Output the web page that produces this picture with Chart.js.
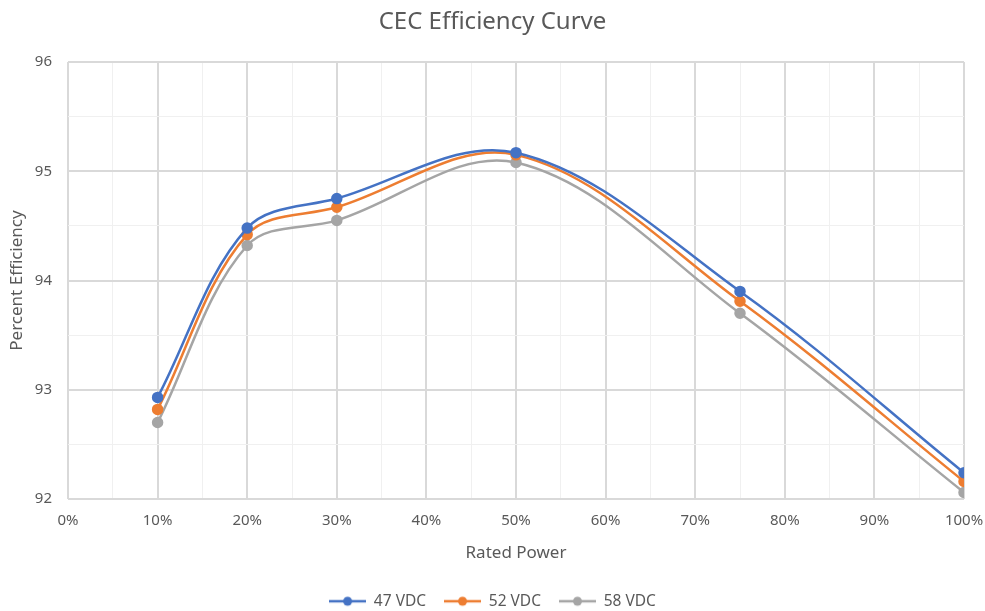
<!DOCTYPE html>
<html>
<head>
<meta charset="utf-8">
<title>CEC Efficiency Curve</title>
<script src="https://cdn.jsdelivr.net/npm/chart.js@4.4.1/dist/chart.umd.min.js"></script>
<style>
    html, body { margin: 0; padding: 0; background: #fff; }
    #grafico { display: block; }
</style>
</head>
<body>
<canvas id="grafico" width="985" height="611"></canvas>
<script>
// Puntos medidos (% de potencia nominal) y eficiencia por tensión de entrada
const ratedPower = [10, 20, 30, 50, 75, 100];
const vdc47 = [92.93, 94.48, 94.75, 95.17, 93.90, 92.24];
const vdc52 = [92.82, 94.42, 94.67, 95.15, 93.81, 92.16];
const vdc58 = [92.70, 94.32, 94.55, 95.08, 93.70, 92.06];
const seriesNames = ['47 VDC', '52 VDC', '58 VDC'];
const seriesColors = ['#4472C4', '#ED7D31', '#A5A5A5'];

const textColor = '#595959';
const fontFamily = "'Noto Sans', 'Open Sans', sans-serif";

// Marcador de leyenda: línea con punto al centro
function legendMarker(color) {
    const c = document.createElement('canvas');
    c.width = 37;
    c.height = 12;
    const g = c.getContext('2d');
    g.strokeStyle = color;
    g.lineWidth = 2.5;
    g.beginPath();
    g.moveTo(0, 6);
    g.lineTo(37, 6);
    g.stroke();
    g.fillStyle = color;
    g.beginPath();
    g.arc(18.5, 6, 4.5, 0, Math.PI * 2);
    g.fill();
    return c;
}

const seriesValues = [vdc47, vdc52, vdc58];
const datasets = seriesValues.map((vals, i) => ({
    label: seriesNames[i],
    data: ratedPower.map((x, j) => ({ x: x, y: vals[j] })),
    borderColor: seriesColors[i],
    backgroundColor: seriesColors[i],
    borderWidth: 2.5,
    pointRadius: 4.5,
    pointHoverRadius: 5,
    tension: 0.35,
    fill: false
}));

const ctx = document.getElementById('grafico').getContext('2d');
new Chart(ctx, {
    type: 'line',
    data: { datasets },
    options: {
        responsive: false,
        animation: false,
        layout: { padding: { left: 0, right: 0, top: 0, bottom: -8 } },
        plugins: {
            title: {
                display: true,
                text: 'CEC Efficiency Curve',
                color: textColor,
                font: { family: fontFamily, size: 24, weight: 'normal', lineHeight: 1.2 },
                padding: { top: 7.6, bottom: 25.6 }
            },
            legend: {
                display: true,
                position: 'bottom',
                labels: {
                    color: textColor,
                    font: { family: fontFamily, size: 15.5, lineHeight: 1 },
                    usePointStyle: true,
                    pointStyleWidth: 37,
                    boxHeight: 12,
                    padding: 18,
                    generateLabels: (chart) => {
                        const items = Chart.defaults.plugins.legend.labels.generateLabels(chart);
                        items.forEach((it, i) => { it.pointStyle = legendMarker(seriesColors[i]); });
                        return items;
                    }
                }
            },
            tooltip: { enabled: false }
        },
        scales: {
            x: {
                type: 'linear',
                min: 0,
                max: 100,
                border: { display: false },
                grid: {
                    color: (c) => (c.tick.value % 10 === 0 ? '#D9D9D9' : '#F0F0F0'),
                    lineWidth: (c) => (c.tick.value % 10 === 0 ? 2 : 1),
                    drawTicks: false
                },
                ticks: {
                    stepSize: 5,
                    autoSkip: false,
                    maxRotation: 0,
                    padding: 13,
                    color: textColor,
                    font: { family: fontFamily, size: 15 },
                    callback: (v) => (v % 10 === 0 ? v + '%' : '')
                },
                title: {
                    display: true,
                    text: 'Rated Power',
                    color: textColor,
                    font: { family: fontFamily, size: 17 },
                    padding: { top: 8, bottom: 12.3 }
                },
                // alto fijo y margen derecho para la etiqueta "100%"
                afterFit: (scale) => {
                    scale.height = 76.5;
                    scale.paddingLeft = 0;
                    scale.paddingRight = 21;
                }
            },
            y: {
                min: 92,
                max: 96,
                border: { display: false },
                grid: {
                    color: (c) => (c.tick.value % 1 === 0 ? '#D9D9D9' : '#F0F0F0'),
                    lineWidth: (c) => (c.tick.value % 1 === 0 ? 2 : 1),
                    drawTicks: false
                },
                ticks: {
                    stepSize: 0.5,
                    autoSkip: false,
                    padding: 16,
                    color: textColor,
                    font: { family: fontFamily, size: 15 },
                    callback: (v) => (v % 1 === 0 ? v : '')
                },
                title: {
                    display: true,
                    text: 'Percent Efficiency',
                    color: textColor,
                    font: { family: fontFamily, size: 17 },
                    padding: { top: 7, bottom: 0 }
                },
                afterFit: (scale) => { scale.width = 68; }
            }
        }
    }
});
</script>
</body>
</html>
